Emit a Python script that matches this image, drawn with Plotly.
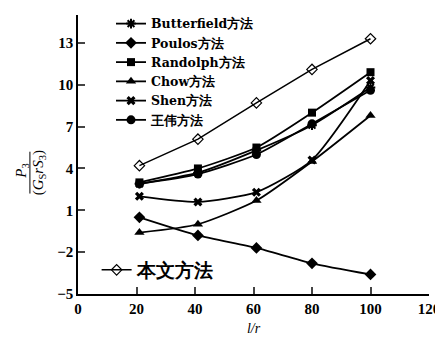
import plotly.graph_objects as go

x_vals = [21, 41, 61, 80, 100]
butterfield = [2.9, 3.7, 5.3, 7.1, 9.8]
poulos = [0.5, -0.8, -1.7, -2.8, -3.6]
randolph = [3.0, 4.0, 5.5, 8.0, 10.9]
chow = [-0.6, 0.0, 1.7, 4.5, 7.8]
shen = [2.0, 1.6, 2.3, 4.6, 10.3]
wangwei = [2.9, 3.6, 5.0, 7.2, 9.6]
benwen = [4.2, 6.1, 8.7, 11.1, 13.3]

x_ticks = [0, 20, 40, 60, 80, 100, 120]
y_ticks = [-5, -2, 1, 4, 7, 10, 13, 15]
y_ticktext = ["−5", "−2", "1", "4", "7", "10", "13", ""]

FONT = "Liberation Serif"
LFONT = "DejaVu Serif"
series = [
    ("Butterfield方法", butterfield, dict(symbol="asterisk", size=8, line=dict(width=2, color="black"))),
    ("Poulos方法", poulos, dict(symbol="diamond", size=9)),
    ("Randolph方法", randolph, dict(symbol="square", size=8)),
    ("Chow方法", chow, dict(symbol="triangle-up", size=9)),
    ("Shen方法", shen, dict(symbol="x", size=8)),
    ("王伟方法", wangwei, dict(symbol="circle", size=9)),
]

fig = go.Figure()
for name, ys, mk in series:
    mk = dict(mk)
    mk.setdefault("color", "black")
    fig.add_trace(go.Scatter(x=x_vals, y=ys, name=name, mode="lines+markers",
                             line=dict(color="black", width=1.8, shape="spline", smoothing=0.6),
                             marker=mk, legend="legend"))
fig.add_trace(go.Scatter(x=x_vals, y=benwen, name="本文方法", mode="lines+markers",
                         line=dict(color="black", width=1.5),
                         marker=dict(symbol="diamond-open", size=8, color="black",
                                     line=dict(width=1.2, color="black")),
                         legend="legend2"))

fig.update_layout(
    width=435, height=330,
    margin=dict(l=70, r=14, t=7, b=44, autoexpand=False),
    plot_bgcolor="white", paper_bgcolor="white",
    font=dict(family=FONT, color="black", size=14),
    legend=dict(xref="container", yref="container", x=0.2368, y=0.997,
                xanchor="left", yanchor="top", bgcolor="rgba(0,0,0,0)",
                font=dict(family=LFONT, size=12.5, weight=700),
                tracegroupgap=0, itemwidth=30),
    legend2=dict(xref="container", yref="container", x=0.2037, y=0.2636,
                 xanchor="left", yanchor="top", bgcolor="rgba(0,0,0,0)",
                 font=dict(family=FONT, size=19, weight=700)),
    xaxis=dict(range=[0, 120], tickvals=x_ticks, ticks="inside", ticklen=7, tickwidth=1.5,
               showline=True, linecolor="black", linewidth=1.5, showgrid=False, zeroline=False,
               automargin=False,
               tickfont=dict(family=FONT, size=15, weight=700),
               title=dict(text="<i>l/r</i>", font=dict(family=FONT, size=14), standoff=7)),
    yaxis=dict(range=[-5, 15], tickvals=y_ticks, ticktext=y_ticktext, ticks="inside", ticklen=7,
               tickwidth=1.5, automargin=False,
               showline=True, linecolor="black", linewidth=1.5, showgrid=False, zeroline=False,
               tickfont=dict(family=FONT, size=15, weight=700)),
    showlegend=True,
)

# Y-axis title as a fraction
fig.add_annotation(text="<i>P</i><sub>3</sub>", xref="paper", yref="paper",
                   x=-0.158, y=0.44, xanchor="center", yanchor="middle", showarrow=False,
                   textangle=-90, font=dict(family=FONT, size=15))
fig.add_annotation(text="(<i>G</i><sub>S</sub><i>r</i><i>S</i><sub>3</sub>)", xref="paper", yref="paper",
                   x=-0.112, y=0.435, xanchor="center", yanchor="middle", showarrow=False,
                   textangle=-90, font=dict(family=FONT, size=15))
fig.add_shape(type="line", xref="paper", yref="paper", x0=-0.137, x1=-0.137,
              y0=0.36, y1=0.51, line=dict(color="black", width=1))
fig.write_html("out.html")
